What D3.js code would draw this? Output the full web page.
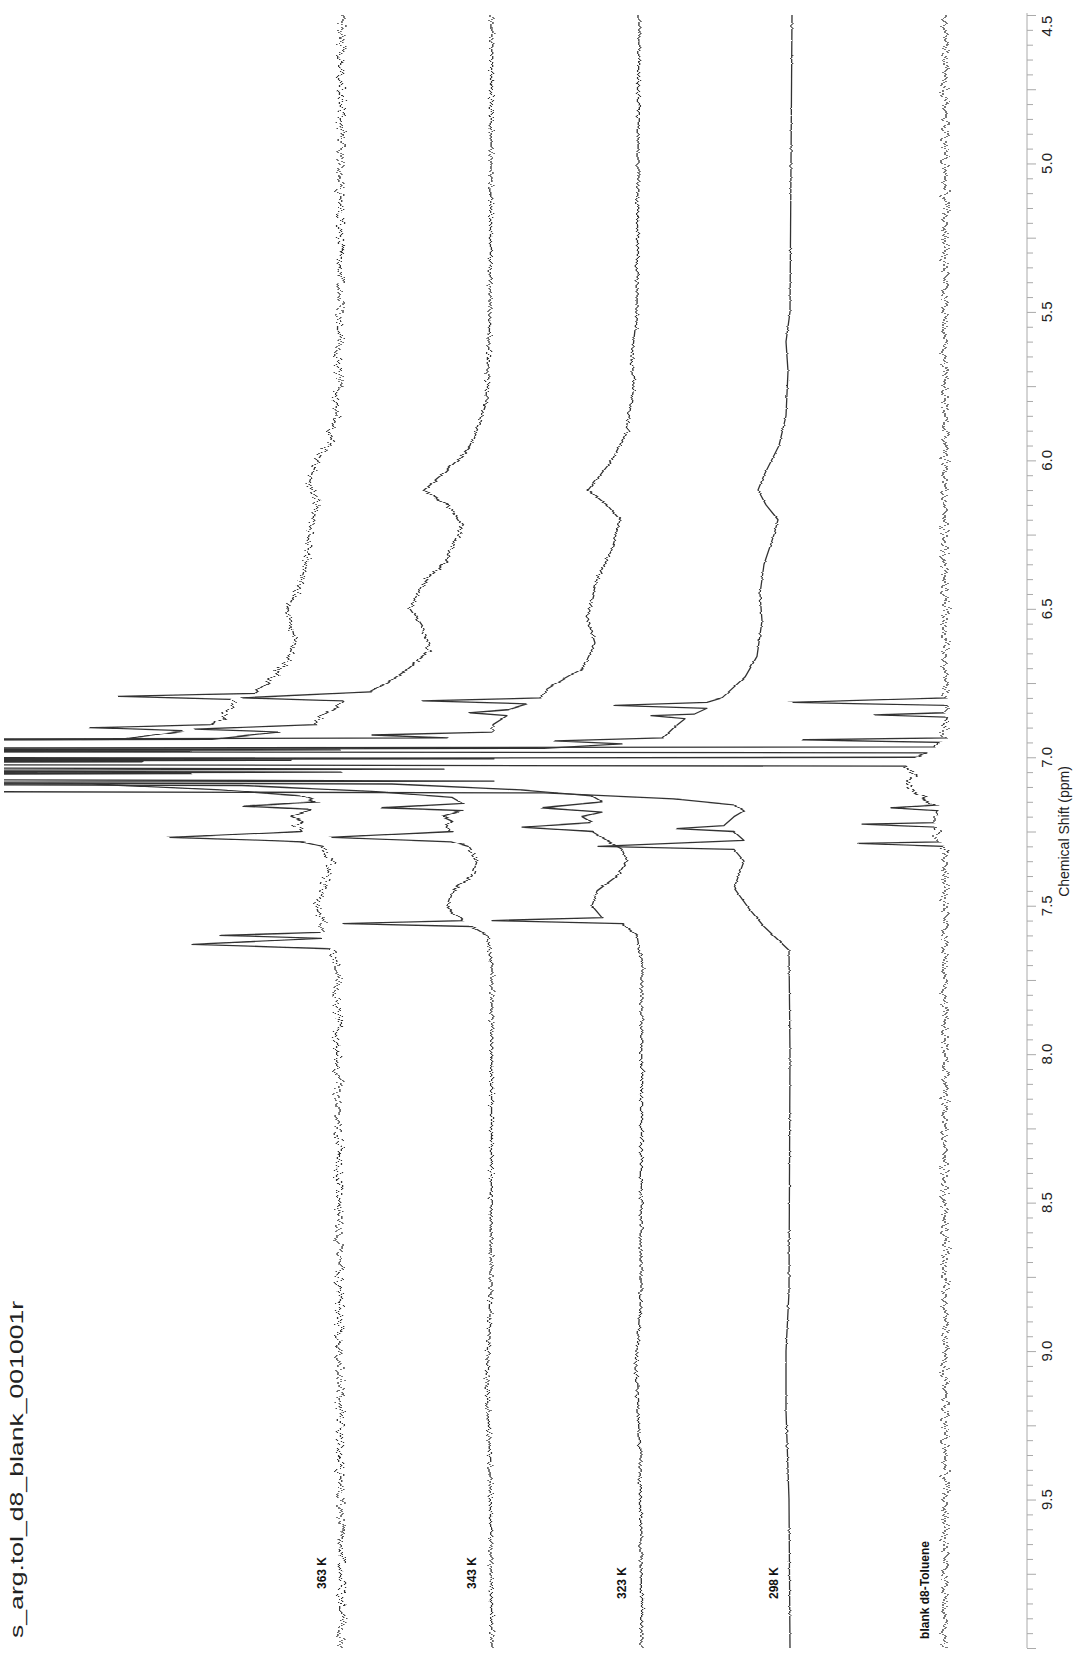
<!DOCTYPE html>
<html><head><meta charset="utf-8">
<script src="https://cdn.jsdelivr.net/npm/d3@7"></script>
<style>html,body{margin:0;padding:0;background:#fff;}svg{display:block;font-family:Arial,"Liberation Sans",sans-serif;}</style>
</head><body>
<svg id="chart" width="1077" height="1661"></svg>
<script>
// ---- data ----
const traceLabels = ["363 K", "343 K", "323 K", "298 K", "blank d8-Toluene"];
const stackOffsets = [685, 535, 385, 233, 82];   // intensity offset of each spectrum
const majorTicks = [4.5, 5.0, 5.5, 6.0, 6.5, 7.0, 7.5, 8.0, 8.5, 9.0, 9.5];
const tickLabels = ["4.5", "5.0", "5.5", "6.0", "6.5", "7.0", "7.5", "8.0", "8.5", "9.0", "9.5"];
const title = "s_arg.tol_d8_blank_001001r";
const axisTitle = "Chemical Shift (ppm)";

const ppm363 = [4.5,5.5,5.85,5.95,6.02,6.08,6.12,6.18,6.25,6.335,6.42,6.5,6.56,6.61,6.66,6.705,6.75,6.785,6.795,6.805,6.83,6.87,6.89,6.9,6.91,6.94,6.955,6.975,6.99,7.01,7.03,7.05,7.07,7.09,7.11,7.13,7.15,7.165,7.175,7.2,7.215,7.23,7.25,7.27,7.285,7.3,7.35,7.4,7.45,7.5,7.55,7.59,7.6,7.61,7.63,7.645,7.7,10.0];
const int363 = [0,2,5,15,28,33,26,28,32,35,42,55,50,47,52,62,75,89,224,110,112,120,130,249,157,220,3000,300,3000,350,3000,300,3000,250,120,40,25,100,30,50,40,45,40,170,40,20,10,15,20,25,20,20,120,20,150,10,5,0];

const ppm343 = [4.5,5.5,5.8,5.95,6.05,6.1,6.15,6.22,6.3,6.335,6.42,6.5,6.56,6.64,6.705,6.75,6.78,6.80,6.81,6.83,6.86,6.89,6.905,6.915,6.94,6.96,6.98,6.995,7.015,7.035,7.055,7.075,7.095,7.115,7.135,7.155,7.17,7.18,7.2,7.215,7.23,7.25,7.27,7.285,7.3,7.35,7.4,7.45,7.5,7.55,7.56,7.57,7.6,7.7,8.8,9.1,9.4,10.0];
const int343 = [0,2,5,20,50,68,45,30,40,45,70,82,70,62,85,105,122,252,150,155,170,177,297,214,280,3000,300,3000,350,3000,300,3000,250,120,40,30,110,30,50,40,45,40,160,40,25,15,20,40,45,30,150,20,5,0,1,5,2,0];

const ppm323 = [4.5,5.5,5.65,5.75,5.9,6.0,6.1,6.15,6.2,6.3,6.4,6.53,6.615,6.7,6.77,6.80,6.81,6.82,6.84,6.85,6.86,6.89,6.915,6.925,6.935,6.955,6.975,6.99,7.01,7.03,7.05,7.07,7.09,7.11,7.13,7.15,7.17,7.185,7.2,7.22,7.235,7.25,7.27,7.29,7.31,7.35,7.4,7.45,7.5,7.54,7.55,7.56,7.6,7.7,8.8,9.05,9.35,10.0];
const int323 = [3,5,10,8,15,30,54,35,22,30,45,55,47,59,95,100,220,115,135,172,135,149,149,270,195,3000,300,3000,350,3000,300,3000,250,120,50,40,100,40,60,50,120,50,40,30,20,15,25,45,50,40,150,20,5,0,1,6,2,0];

const ppm298 = [4.5,5.0,5.5,5.6,5.7,5.85,5.95,6.05,6.1,6.15,6.2,6.25,6.35,6.45,6.54,6.66,6.73,6.80,6.815,6.825,6.835,6.855,6.86,6.87,6.9,6.935,6.945,6.955,6.97,6.985,7.005,7.02,7.04,7.06,7.08,7.10,7.12,7.14,7.16,7.18,7.2,7.23,7.24,7.25,7.28,7.30,7.31,7.35,7.44,7.51,7.57,7.65,8.0,8.8,9.0,9.2,9.5,10.0];
const int298 = [2,3,4,8,6,8,15,30,36,28,16,20,30,34,32,37,49,72,87,179,87,100,142,109,120,131,239,172,250,3000,300,3000,350,3000,300,3000,250,120,60,50,60,70,118,60,50,196,60,50,60,45,30,5,4,5,8,8,5,4];

const ppm5 = [4.5,6.70,6.80,6.815,6.825,6.85,6.857,6.865,6.88,6.90,6.935,6.941,6.95,6.965,6.975,6.985,7.00,7.015,7.03,7.06,7.09,7.10,7.12,7.14,7.16,7.17,7.18,7.2,7.22,7.225,7.235,7.26,7.285,7.29,7.3,7.32,10.0];
const int5 = [0,0,0,155,0,0,68,0,-3,0,0,142,8,10,3000,20,30,3000,40,30,38,35,30,20,10,52,8,10,10,82,10,8,8,85,5,0,0];

const spectra = [
  {ppm: ppm363, val: int363, noise: 18},
  {ppm: ppm343, val: int343, noise: 11},
  {ppm: ppm323, val: int323, noise: 7},
  {ppm: ppm298, val: int298, noise: 3},
  {ppm: ppm5,   val: int5,   noise: 16}
];

// ---- chart ----
const svg = d3.select("#chart");
const W = 1077, H = 1661;
svg.append("rect").attr("width", W).attr("height", H).attr("fill", "#fff");

const axisX = 1027;
const y = d3.scaleLinear().domain([4.5, 10.0]).range([15, 1648]);
const x = d3.scaleLinear().domain([0, 1000]).range([axisX, axisX - 1000]);

const defs = svg.append("defs");
defs.append("clipPath").attr("id", "plotclip")
  .append("rect").attr("x", 4).attr("y", 0).attr("width", axisX - 4).attr("height", H);

// rendering texture that gives the traces their noisy look
spectra.forEach((s, i) => {
  const f = defs.append("filter").attr("id", "tex" + i)
    .attr("filterUnits", "userSpaceOnUse").attr("x", 0).attr("y", 0).attr("width", W).attr("height", H);
  f.append("feTurbulence").attr("type", "fractalNoise").attr("baseFrequency", "0.01 0.4")
    .attr("numOctaves", 2).attr("seed", 3 + i).attr("result", "t");
  const ct = f.append("feComponentTransfer").attr("in", "t").attr("result", "t2");
  ct.append("feFuncG").attr("type", "linear").attr("slope", 0).attr("intercept", 0.5);
  ct.append("feFuncA").attr("type", "linear").attr("slope", 0).attr("intercept", 1);
  f.append("feDisplacementMap").attr("in", "SourceGraphic").attr("in2", "t2")
    .attr("scale", s.noise).attr("xChannelSelector", "R").attr("yChannelSelector", "G");
});

const plot = svg.append("g").attr("clip-path", "url(#plotclip)");
const line = d3.line().x(d => x(d[1])).y(d => y(d[0]));

spectra.forEach((s, i) => {
  const pts = s.ppm.map((p, k) => [p, s.val[k] + stackOffsets[i]]);
  plot.append("g").attr("filter", `url(#tex${i})`)
    .append("path")
    .attr("d", line(pts))
    .attr("fill", "none")
    .attr("stroke", "#333")
    .attr("stroke-width", 1.3)
    .attr("stroke-linejoin", "round");
});

// trace labels (centre positions along the axis direction)
const labelCentres = [1573, 1573, 1583, 1583, 1590];
traceLabels.forEach((t, i) => {
  const bx = x(stackOffsets[i]) - 20;
  svg.append("text")
    .attr("transform", `translate(${bx},${labelCentres[i]}) rotate(-90)`)
    .attr("text-anchor", "middle")
    .attr("dominant-baseline", "central")
    .attr("font-size", 12).attr("font-weight", "bold").attr("fill", "#111")
    .text(t);
});

// axis
const minorTicks = d3.range(0, 111).map(k => +(4.5 + k * 0.05).toFixed(2));
const axisG = svg.append("g").attr("transform", `translate(${axisX},0)`);
axisG.append("line").attr("x1", 0).attr("x2", 0).attr("y1", y(4.5) - 2).attr("y2", y(10.0))
  .attr("stroke", "#aaa").attr("stroke-width", 1);
const minorAxis = d3.axisRight(y).tickValues(minorTicks).tickSize(6).tickFormat("");
const gMinor = axisG.append("g").call(minorAxis);
gMinor.select(".domain").remove();
gMinor.selectAll(".tick line").attr("stroke", "#aaa")
  .attr("x2", d => (Math.abs((d * 4) - Math.round(d * 4)) < 1e-6) ? 9 : 6);

majorTicks.forEach((v, k) => {
  const ty = Math.max(y(v), 26);
  axisG.append("text")
    .attr("transform", `translate(19,${ty}) rotate(-90)`)
    .attr("text-anchor", "middle")
    .attr("dominant-baseline", "central")
    .attr("font-size", 15).attr("fill", "#222")
    .text(tickLabels[k]);
});
axisG.append("text")
  .attr("transform", `translate(37,${(y(4.5) + y(10.0)) / 2}) rotate(-90)`)
  .attr("text-anchor", "middle").attr("dominant-baseline", "central")
  .attr("font-size", 14).attr("fill", "#222")
  .text(axisTitle);

// title
svg.append("text")
  .attr("transform", `translate(16,1638) rotate(-90) scale(1.4,1)`)
  .attr("text-anchor", "start").attr("dominant-baseline", "central")
  .attr("font-size", 19).attr("fill", "#222")
  .text(title);
</script>
</body></html>
